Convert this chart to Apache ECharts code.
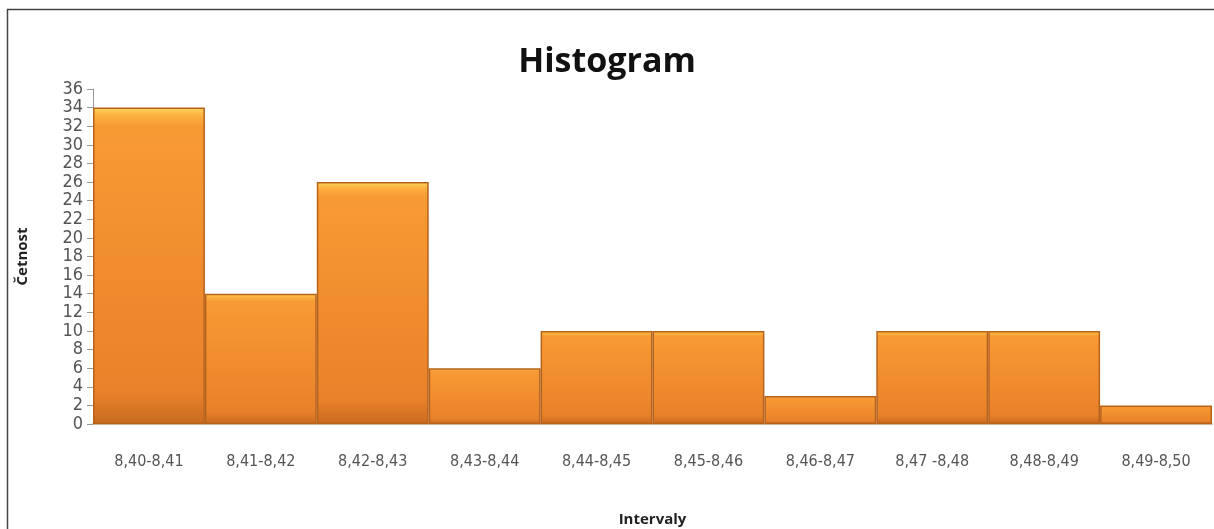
<!DOCTYPE html>
<html>
<head>
<meta charset="utf-8">
<script src="https://cdn.jsdelivr.net/npm/echarts@6/dist/echarts.min.js"></script>
<style>
  html, body { margin: 0; padding: 0; background: #fff; }
  #chart { width: 1214px; height: 529px; }
</style>
</head>
<body>
<div id="chart"></div>
<script>
// data
var intervals = ['8,40-8,41', '8,41-8,42', '8,42-8,43', '8,43-8,44', '8,44-8,45',
	'8,45-8,46', '8,46-8,47', '8,47 -8,48', '8,48-8,49', '8,49-8,50'];
var counts = [34, 14, 26, 6, 10, 10, 3, 10, 10, 2];
var yTicks = [0, 36, 2]; // min, max, step

var chart = echarts.init(document.getElementById('chart'));

var option = {
	animation: false,
	title: {
		text: 'Histogram',
		left: 602,
		top: 40,
		textAlign: 'center',
		textStyle: {
			fontFamily: 'Open Sans',
			fontSize: 34,
			fontWeight: 'bold',
			color: '#111'
		}
	},
	graphic: [{
		// outer frame of the chart box, running off the right and bottom edges
		type: 'rect',
		shape: { x: 7.5, y: 9.5, width: 1400, height: 700 },
		style: { fill: null, stroke: '#444', lineWidth: 1.5 },
		silent: true
	}],
	grid: {
		left: 93,
		right: 2,
		top: 89,
		bottom: 105,
		outerBoundsMode: 'none'
	},
	xAxis: {
		type: 'category',
		data: intervals,
		name: 'Intervaly',
		nameLocation: 'middle',
		nameGap: 88,
		nameTextStyle: {
			fontFamily: 'Open Sans',
			fontSize: 15,
			fontWeight: 'bold',
			color: '#222'
		},
		axisLine: { lineStyle: { color: '#c9b59a', width: 2 } },
		axisTick: { show: false },
		axisLabel: {
			margin: 30,
			fontFamily: 'DejaVu Sans Condensed',
			fontSize: 16,
			color: '#555'
		}
	},
	yAxis: {
		type: 'value',
		min: yTicks[0],
		max: yTicks[1],
		interval: yTicks[2],
		name: 'Četnost',
		nameLocation: 'middle',
		nameGap: 63,
		nameRotate: 90,
		nameTextStyle: {
			fontFamily: 'Open Sans',
			fontSize: 15,
			fontWeight: 'bold',
			color: '#222'
		},
		axisLine: { show: true, lineStyle: { color: '#999' } },
		axisTick: { show: true, length: 6, lineStyle: { color: '#999' } },
		splitLine: { show: false },
		axisLabel: {
			margin: 10,
			showMinLabel: true,
			showMaxLabel: true,
			hideOverlap: false,
			fontFamily: 'DejaVu Sans Condensed',
			fontSize: 18,
			lineHeight: 16,
			color: '#555'
		}
	},
	series: [{
		type: 'bar',
		data: counts,
		barCategoryGap: '0%',
		itemStyle: {
			borderColor: '#b7621b',
			borderWidth: 1.5,
			color: {
				type: 'linear', x: 0, y: 0, x2: 0, y2: 1,
				colorStops: [
					{ offset: 0, color: '#ffd860' },
					{ offset: 0.025, color: '#fbb13f' },
					{ offset: 0.06, color: '#f89a34' },
					{ offset: 0.9, color: '#e8822a' },
					{ offset: 1, color: '#c96a20' }
				]
			}
		}
	}]
};

chart.setOption(option);
</script>
</body>
</html>
